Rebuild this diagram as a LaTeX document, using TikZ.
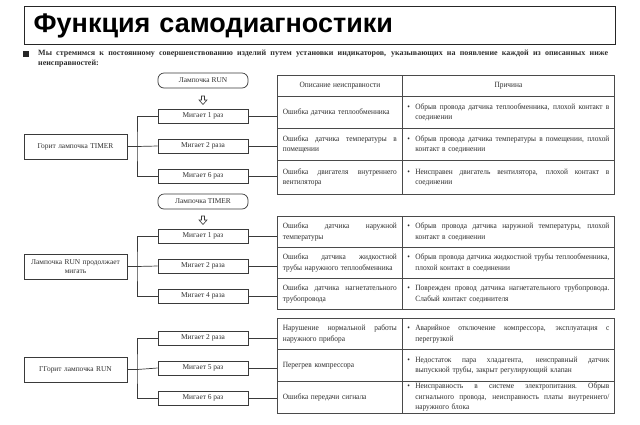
\documentclass[tikz,border=0pt]{standalone}
\usepackage{fontspec}
\setmainfont{Liberation Serif}
\newfontfamily\titlefont{Liberation Sans}
\newfontfamily\cellserif[FakeStretch=0.92]{Liberation Serif}
\definecolor{linec}{HTML}{3A3A3A}
\definecolor{tlinec}{HTML}{4A4A4A}
\definecolor{textc}{HTML}{2E2E2E}
\newcommand\cellfont{\cellserif\fontsize{8}{10.5}\selectfont}
\newcommand\boxfont{\fontsize{7.4}{9.5}\selectfont}
\newcommand\js[2]{\makebox[#1][s]{\spaceskip=0.25em plus 1fil\xspaceskip=0.25em plus 1fil\relax #2}}
\newcommand\ja[1]{\js{114pt}{#1}}
\newcommand\jb[1]{\js{194pt}{#1}}
\newcommand\bu{\makebox[8pt][l]{\textbullet}}
\newcommand\ind{\hspace*{8pt}}
\begin{document}
\begin{tikzpicture}[x=1pt,y=-1pt,
  every node/.style={text=textc},
  boxline/.style={draw=linec, line width=0.7pt},
  lamp/.style={boxline, rounded corners=6pt, minimum width=90pt, minimum height=15pt, inner sep=0pt, font=\boxfont},
  blink/.style={boxline, minimum width=90pt, minimum height=14pt, inner sep=0pt, font=\boxfont},
  state/.style={boxline, minimum width=103pt, minimum height=25pt, text width=95pt, inner xsep=4pt, inner ysep=0pt, align=center, font=\boxfont},
  conn/.style={draw=linec, line width=0.7pt},
  cella/.style={draw=tlinec, line width=0.8pt, anchor=north west, minimum width=125pt, text width=114pt, inner xsep=5.5pt, inner ysep=0pt, align=left, font=\cellfont},
  cellb/.style={draw=tlinec, line width=0.8pt, anchor=north west, minimum width=212pt, text width=202pt, inner xsep=5pt, inner ysep=0pt, align=left, font=\cellfont},
  hollowarrow/.style={draw=linec, line width=0.6pt, fill=white}
]
\useasboundingbox (0,0) rectangle (640,424);
\fill[white] (0,0) rectangle (640,424);

% title
\node[draw=black!85, line width=1.3pt, anchor=north west, minimum width=591pt, minimum height=38pt,
      text width=573pt, inner xsep=9pt, align=left, text=black,
      font=\titlefont\bfseries\fontsize{27}{27}\selectfont] (title) at (24,6) {Функция самодиагностики};

% note
\fill[black!85] (23,51) rectangle (29,57);
\node[anchor=north west, inner sep=0pt, text width=570pt, align=left,
      font=\bfseries\fontsize{8}{10}\selectfont] (note) at (38,49.5)
  {\js{570pt}{Мы стремимся к постоянному совершенствованию изделий путем установки индикаторов, указывающих на появление каждой из описанных ниже}\\неисправностей:};

% ---------- section 1 ----------
\node[lamp] (l1) at (203,80.5) {Лампочка RUN};
\draw[hollowarrow] (201.5,96) -- (204.5,96) -- (204.5,100) -- (207,100) -- (203,104.5) -- (199,100) -- (201.5,100) -- cycle;
\node[blink] (b11) at (203,116) {Мигает 1 раз};
\node[blink] (b12) at (203,146) {Мигает 2 раза};
\node[blink] (b13) at (203,176) {Мигает 6 раз};
\node[state] (s1) at (75.5,146.5) {Горит лампочка TIMER};
\coordinate (j1) at (137,146.5);

\node[cella, align=center, minimum height=21pt] (h1a) at (277,75) {Описание неисправности};
\node[cellb, align=center, minimum height=21pt] (h1b) at (402,75) {Причина};
\node[cella, minimum height=32pt] (t11a) at (277,96) {Ошибка датчика теплообменника};
\node[cellb, minimum height=32pt] (t11b) at (402,96) {\bu\jb{Обрыв провода датчика теплообменника, плохой контакт в}\\\ind соединении};
\node[cella, minimum height=32pt] (t12a) at (277,128) {\ja{Ошибка датчика температуры в}\\помещении};
\node[cellb, minimum height=32pt] (t12b) at (402,128) {\bu\jb{Обрыв провода датчика температуры в помещении, плохой}\\\ind контакт в соединении};
\node[cella, minimum height=34pt] (t13a) at (277,160) {\ja{Ошибка двигателя внутреннего}\\вентилятора};
\node[cellb, minimum height=34pt] (t13b) at (402,160) {\bu\jb{Неисправен двигатель вентилятора, плохой контакт в}\\\ind соединении};

\draw[conn] (s1.east) -- (j1);
\draw[conn] (b11.west) -| (j1) |- (b13.west);
\draw[conn] (j1) -- (b12.west);
\draw[conn] (b11.east) -- (b11.east -| t11a.west);
\draw[conn] (b12.east) -- (b12.east -| t12a.west);
\draw[conn] (b13.east) -- (b13.east -| t13a.west);

% ---------- section 2 ----------
\node[lamp] (l2) at (203,201.5) {Лампочка TIMER};
\draw[hollowarrow] (201.5,216) -- (204.5,216) -- (204.5,220) -- (207,220) -- (203,224.5) -- (199,220) -- (201.5,220) -- cycle;
\node[blink] (b21) at (203,236) {Мигает 1 раз};
\node[blink] (b22) at (203,266) {Мигает 2 раза};
\node[blink] (b23) at (203,296) {Мигает 4 раза};
\node[state] (s2) at (75.5,266.5) {Лампочка RUN продолжает\\мигать};
\coordinate (j2) at (137,266.5);

\node[cella, minimum height=31pt] (t21a) at (277,216) {\ja{Ошибка датчика наружной}\\температуры};
\node[cellb, minimum height=31pt] (t21b) at (402,216) {\bu\jb{Обрыв провода датчика наружной температуры, плохой}\\\ind контакт в соединении};
\node[cella, minimum height=31pt] (t22a) at (277,247) {\ja{Ошибка датчика жидкостной}\\трубы наружного теплообменника};
\node[cellb, minimum height=31pt] (t22b) at (402,247) {\bu\jb{Обрыв провода датчика жидкостной трубы теплообменника,}\\\ind плохой контакт в соединении};
\node[cella, minimum height=31pt] (t23a) at (277,278) {\ja{Ошибка датчика нагнетательного}\\трубопровода};
\node[cellb, minimum height=31pt] (t23b) at (402,278) {\bu\jb{Поврежден провод датчика нагнетательного трубопровода.}\\\ind Слабый контакт соединителя};

\draw[conn] (s2.east) -- (j2);
\draw[conn] (b21.west) -| (j2) |- (b23.west);
\draw[conn] (j2) -- (b22.west);
\draw[conn] (b21.east) -- (b21.east -| t21a.west);
\draw[conn] (b22.east) -- (b22.east -| t22a.west);
\draw[conn] (b23.east) -- (b23.east -| t23a.west);

% ---------- section 3 ----------
\node[blink] (b31) at (203,338) {Мигает 2 раза};
\node[blink] (b32) at (203,368) {Мигает 5 раз};
\node[blink] (b33) at (203,398) {Мигает 6 раз};
\node[state] (s3) at (75.5,369.5) {ГГорит лампочка RUN};
\coordinate (j3) at (137,369.5);

\node[cella, minimum height=31pt] (t31a) at (277,318) {\ja{Нарушение нормальной работы}\\наружного прибора};
\node[cellb, minimum height=31pt] (t31b) at (402,318) {\bu\jb{Аварийное отключение компрессора, эксплуатация с}\\\ind перегрузкой};
\node[cella, minimum height=32pt] (t32a) at (277,349) {Перегрев компрессора};
\node[cellb, minimum height=32pt] (t32b) at (402,349) {\bu\jb{Недостаток пара хладагента, неисправный датчик}\\\ind выпускной трубы, закрыт регулирующий клапан};
\node[cella, minimum height=32pt] (t33a) at (277,381) {Ошибка передачи сигнала};
\node[cellb, minimum height=32pt] (t33b) at (402,381) {\bu\jb{Неисправность в системе электропитания. Обрыв}\\\ind\js{194pt}{сигнального провода, неисправность платы внутреннего/}\\\ind наружного блока};

\draw[conn] (s3.east) -- (j3);
\draw[conn] (b31.west) -| (j3) |- (b33.west);
\draw[conn] (j3) -- (b32.west);
\draw[conn] (b31.east) -- (b31.east -| t31a.west);
\draw[conn] (b32.east) -- (b32.east -| t32a.west);
\draw[conn] (b33.east) -- (b33.east -| t33a.west);
\end{tikzpicture}
\end{document}
